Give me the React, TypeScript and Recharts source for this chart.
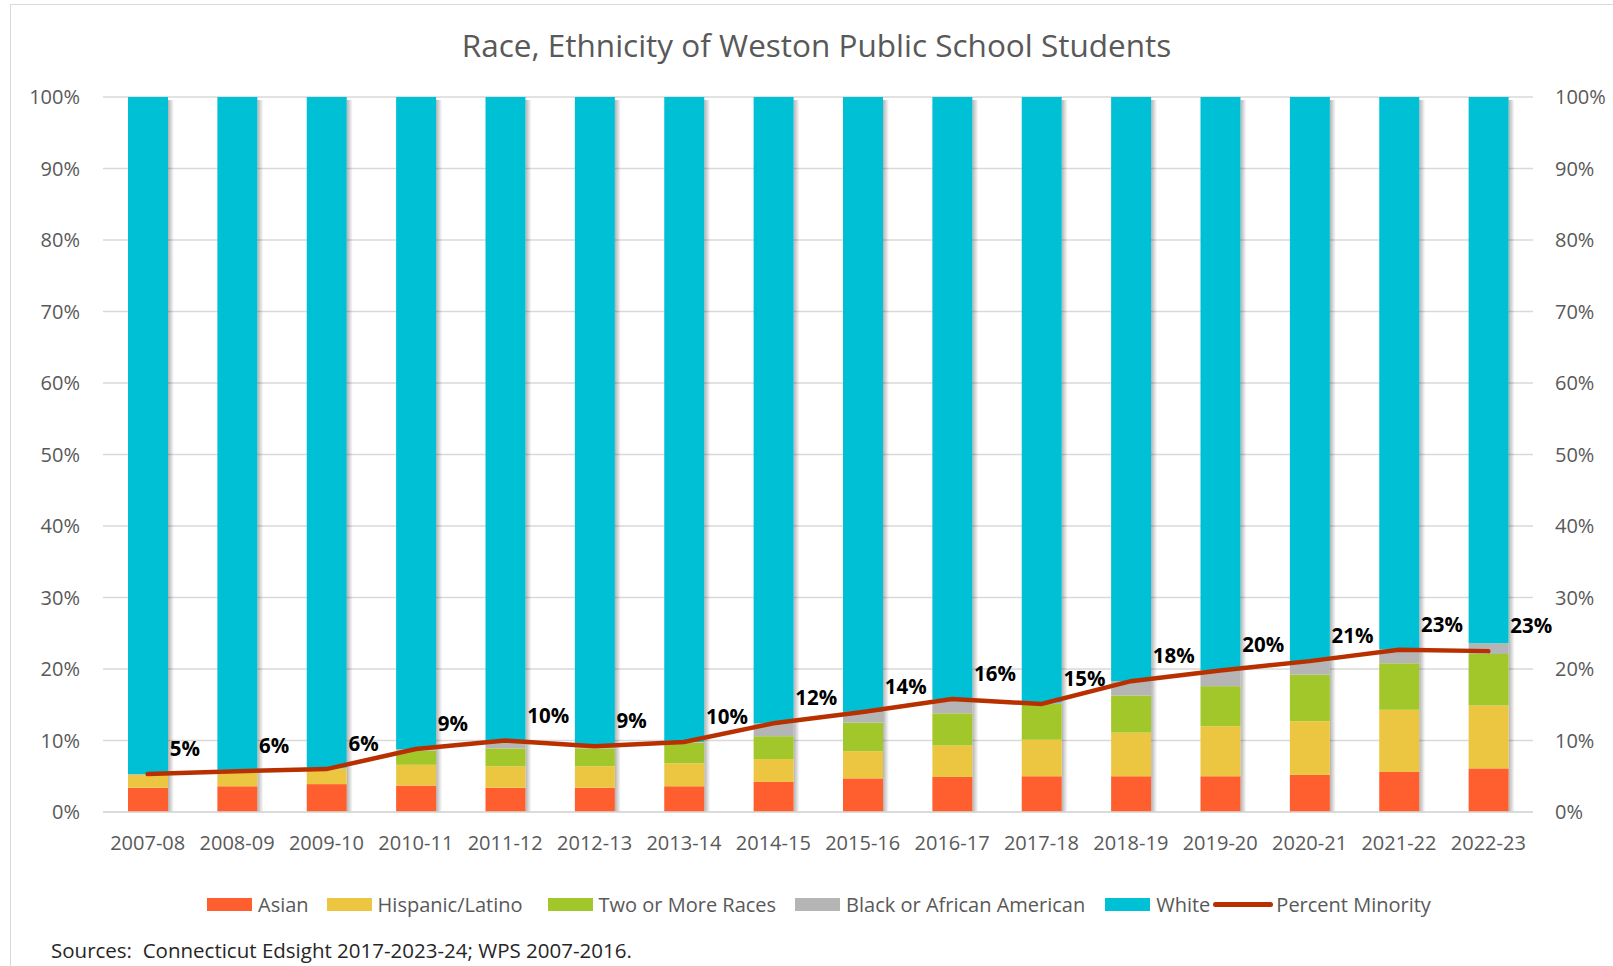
import React from "react";
import {
  Bar,
  CartesianGrid,
  ComposedChart,
  LabelList,
  Line,
  XAxis,
  YAxis,
} from "recharts";

const YEARS = [
  "2007-08", "2008-09", "2009-10", "2010-11", "2011-12", "2012-13", "2013-14", "2014-15",
  "2015-16", "2016-17", "2017-18", "2018-19", "2019-20", "2020-21", "2021-22", "2022-23",
];

const ASIAN = [3.4, 3.6, 3.9, 3.7, 3.4, 3.4, 3.6, 4.2, 4.7, 4.9, 5.0, 5.0, 5.0, 5.2, 5.6, 6.1];
const HISPANIC = [1.8, 2.1, 2.1, 2.9, 3.0, 3.0, 3.2, 3.2, 3.8, 4.4, 5.1, 6.1, 7.0, 7.5, 8.7, 8.8];
const TWO_OR_MORE = [0.0, 0.1, 0.1, 2.0, 2.5, 2.5, 2.9, 3.2, 4.0, 4.5, 5.0, 5.2, 5.6, 6.5, 6.5, 7.2];
const BLACK = [0.1, 0.1, 0.1, 0.2, 1.0, 0.3, 0.1, 1.8, 1.5, 2.0, 0.2, 2.0, 2.2, 1.9, 2.0, 1.5];
const MINORITY = [5.3, 5.7, 6.0, 8.8, 10.0, 9.2, 9.8, 12.4, 14.0, 15.8, 15.1, 18.3, 19.8, 21.1, 22.7, 22.5];
const MINORITY_LABELS = [
  "5%", "6%", "6%", "9%", "10%", "9%", "10%", "12%",
  "14%", "16%", "15%", "18%", "20%", "21%", "23%", "23%",
];
const Y_TICKS = [0, 10, 20, 30, 40, 50, 60, 70, 80, 90, 100];

const COLORS = {
  asian: "#FF5E2F",
  hispanic: "#EDC641",
  two: "#A2C72A",
  black: "#B5B5B5",
  white: "#00C0D5",
  line: "#B83000",
};

const FONT = "'Open Sans', 'Noto Sans', sans-serif";
const GREY = "#595959";

const data = YEARS.map((year, i) => {
  const other = ASIAN[i] + HISPANIC[i] + TWO_OR_MORE[i] + BLACK[i];
  return {
    year,
    asian: ASIAN[i],
    hispanic: HISPANIC[i],
    two: TWO_OR_MORE[i],
    black: BLACK[i],
    white: +(100 - other).toFixed(1),
    minority: MINORITY[i],
    label: MINORITY_LABELS[i],
  };
});

// stacked segment with a soft shadow on its right side, like the Excel bars
function shadowShape(top: boolean) {
  return (props: any) => {
    const { x, y, width, height, fill } = props;
    if (!height || height <= 0) return <g />;
    return (
      <g>
        <rect
          x={x + width}
          y={top ? y + 3 : y}
          width={6}
          height={top ? height - 3 : height}
          fill="url(#barShadow)"
        />
        <rect x={x} y={y} width={width} height={height} fill={fill} />
      </g>
    );
  };
}

const LEGEND = [
  { name: "Asian", color: COLORS.asian, kind: "rect", gap: 18 },
  { name: "Hispanic/Latino", color: COLORS.hispanic, kind: "rect", gap: 25 },
  { name: "Two or More Races", color: COLORS.two, kind: "rect", gap: 19 },
  { name: "Black or African American", color: COLORS.black, kind: "rect", gap: 20 },
  { name: "White", color: COLORS.white, kind: "rect", gap: 3 },
  { name: "Percent Minority", color: COLORS.line, kind: "line", gap: 0 },
];

function MinorityLabel(props: any) {
  const { x, y, value } = props;
  return (
    <text
      x={x + 22}
      y={y - 26}
      dominantBaseline="central"
      fontFamily={FONT}
      fontWeight={700}
      fontSize={20.5}
      fill="#000"
    >
      {value}
    </text>
  );
}

export default function App() {
  return (
    <div
      style={{
        position: "absolute",
        left: 0,
        top: 0,
        width: 1613,
        height: 966,
        background: "#fff",
        overflow: "hidden",
        fontFamily: FONT,
      }}
    >
      <div
        style={{
          position: "absolute",
          left: 10,
          top: 4,
          width: 1640,
          height: 1000,
          border: "1px solid #d9d9d9",
        }}
      />
      <div
        style={{
          position: "absolute",
          left: 10,
          width: 1613,
          top: 25,
          height: 40,
          lineHeight: "40px",
          textAlign: "center",
          fontSize: 31.5,
          color: GREY,
        }}
      >
        Race, Ethnicity of Weston Public School Students
      </div>

      <div style={{ position: "absolute", left: 0, top: 0 }}>
        <ComposedChart
          width={1613}
          height={966}
          data={data}
          margin={{ top: 97, right: 0, bottom: 114, left: 0 }}
        >
          <defs>
            <linearGradient id="barShadow" x1="0" x2="1" y1="0" y2="0">
              <stop offset="0%" stopColor="#000" stopOpacity={0.3} />
              <stop offset="100%" stopColor="#000" stopOpacity={0} />
            </linearGradient>
          </defs>
          <CartesianGrid vertical={false} stroke="#d9d9d9" strokeWidth={1.5} yAxisId="left" />
          <XAxis
            dataKey="year"
            height={40}
            tickLine={false}
            axisLine={{ stroke: "#d9d9d9", strokeWidth: 1.5 }}
            tickSize={0}
            tickMargin={24}
            interval={0}
            tick={{ fontSize: 20, fill: GREY, fontFamily: FONT }}
          />
          <YAxis
            yAxisId="left"
            domain={[0, 100]}
            ticks={Y_TICKS}
            width={103}
            tickLine={false}
            axisLine={false}
            tickSize={0}
            tickMargin={23}
            tickFormatter={(v: number) => `${v}%`}
            tick={{ fontSize: 20, fill: GREY, fontFamily: FONT }}
          />
          <YAxis
            yAxisId="right"
            orientation="right"
            domain={[0, 100]}
            ticks={Y_TICKS}
            width={80}
            tickLine={false}
            axisLine={false}
            tickSize={0}
            tickMargin={22}
            tickFormatter={(v: number) => `${v}%`}
            tick={{ fontSize: 20, fill: GREY, fontFamily: FONT }}
          />
          <Bar yAxisId="left" dataKey="asian" stackId="s" fill={COLORS.asian} barSize={40} shape={shadowShape(false)} isAnimationActive={false} />
          <Bar yAxisId="left" dataKey="hispanic" stackId="s" fill={COLORS.hispanic} barSize={40} shape={shadowShape(false)} isAnimationActive={false} />
          <Bar yAxisId="left" dataKey="two" stackId="s" fill={COLORS.two} barSize={40} shape={shadowShape(false)} isAnimationActive={false} />
          <Bar yAxisId="left" dataKey="black" stackId="s" fill={COLORS.black} barSize={40} shape={shadowShape(false)} isAnimationActive={false} />
          <Bar yAxisId="left" dataKey="white" stackId="s" fill={COLORS.white} barSize={40} shape={shadowShape(true)} isAnimationActive={false} />
          <Line
            yAxisId="right"
            dataKey="minority"
            type="linear"
            stroke={COLORS.line}
            strokeWidth={4.5}
            strokeLinecap="round"
            dot={false}
            activeDot={false}
            isAnimationActive={false}
          >
            <LabelList dataKey="label" content={<MinorityLabel />} />
          </Line>
        </ComposedChart>
      </div>

      <div
        style={{
          position: "absolute",
          left: 207,
          top: 890,
          height: 28,
          display: "flex",
          alignItems: "center",
          fontSize: 20,
          color: GREY,
          whiteSpace: "nowrap",
        }}
      >
        {LEGEND.map((item) => (
          <div
            key={item.name}
            style={{
              display: "flex",
              alignItems: "center",
              marginRight: item.gap,
            }}
          >
            {item.kind === "rect" ? (
              <span
                style={{
                  display: "inline-block",
                  width: 45,
                  height: 13,
                  background: item.color,
                  marginRight: 6,
                }}
              />
            ) : (
              <span
                style={{
                  display: "inline-block",
                  width: 60,
                  height: 5,
                  borderRadius: 3,
                  background: item.color,
                  marginRight: 3,
                }}
              />
            )}
            <span>{item.name}</span>
          </div>
        ))}
      </div>

      <div
        style={{
          position: "absolute",
          left: 51,
          top: 936,
          height: 28,
          lineHeight: "28px",
          fontSize: 20.5,
          color: "#262626",
          whiteSpace: "pre",
        }}
      >
        {"Sources:  Connecticut Edsight 2017-2023-24; WPS 2007-2016."}
      </div>
    </div>
  );
}
